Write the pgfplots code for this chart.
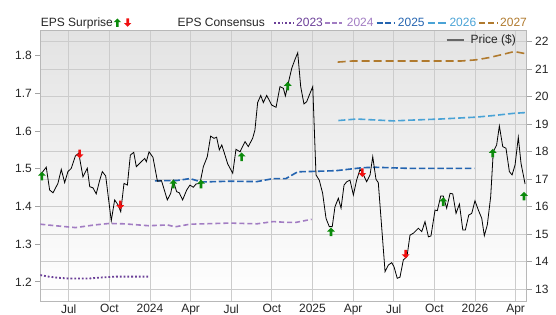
\documentclass[border=0pt]{standalone}
\usepackage{fontspec}
\setmainfont{Liberation Sans}
\usepackage{pgfplots}
\pgfplotsset{compat=1.18}

\definecolor{c2023}{HTML}{6B3F98}
\definecolor{c2024}{HTML}{A27DC3}
\definecolor{c2025}{HTML}{2464B0}
\definecolor{c2026}{HTML}{4AA3D6}
\definecolor{c2027}{HTML}{B07A2E}
\definecolor{cgreen}{HTML}{0B8A0B}
\definecolor{cred}{HTML}{F01010}
\definecolor{gridc}{HTML}{CCCCCC}
\definecolor{bgtop}{HTML}{E3E3E3}
\definecolor{bgmid}{HTML}{FBFBFB}

\pgfdeclareplotmark{uparr}{%
  \pgfpathmoveto{\pgfpoint{0pt}{4.3pt}}%
  \pgfpathlineto{\pgfpoint{3.9pt}{0.3pt}}%
  \pgfpathlineto{\pgfpoint{1.3pt}{0.3pt}}%
  \pgfpathlineto{\pgfpoint{1.3pt}{-4.3pt}}%
  \pgfpathlineto{\pgfpoint{-1.3pt}{-4.3pt}}%
  \pgfpathlineto{\pgfpoint{-1.3pt}{0.3pt}}%
  \pgfpathlineto{\pgfpoint{-3.9pt}{0.3pt}}%
  \pgfpathclose
  \pgfusepathqfill}
\pgfdeclareplotmark{downarr}{%
  \pgfpathmoveto{\pgfpoint{0pt}{-4.3pt}}%
  \pgfpathlineto{\pgfpoint{3.9pt}{-0.3pt}}%
  \pgfpathlineto{\pgfpoint{1.3pt}{-0.3pt}}%
  \pgfpathlineto{\pgfpoint{1.3pt}{4.3pt}}%
  \pgfpathlineto{\pgfpoint{-1.3pt}{4.3pt}}%
  \pgfpathlineto{\pgfpoint{-1.3pt}{-0.3pt}}%
  \pgfpathlineto{\pgfpoint{-3.9pt}{-0.3pt}}%
  \pgfpathclose
  \pgfusepathqfill}

\pgfplotsset{
  common/.style={
    at={(0pt,0pt)}, anchor=south west, scale only axis,
    width=486.4pt, height=270.3pt,
    xmin=3.9, xmax=39.82,
    tick label style={font=\fontsize{12}{14}\selectfont, text=black!85},
    /pgf/number format/assume math mode=true,
  }
}

\begin{document}
\begin{tikzpicture}
% grid / price-scale axis
\begin{axis}[common,
  ymin=12.575, ymax=22.404,
  axis background/.style={top color=bgtop, middle color=bgmid, bottom color=white},
  xtick={6,9,12,15,18,21,24,27,30,33,36,39},
  xticklabels={Jul,Oct,2024,Apr,Jul,Oct,2025,Apr,Jul,Oct,2026,Apr},
  ytick={13,14,15,16,17,18,19,20,21,22},
  ytick pos=right, yticklabel pos=right,
  xmajorgrids, ymajorgrids,
  grid style={gridc, line width=0.8pt},
  axis line style={gridc!90!black, line width=0.8pt},
  tick align=outside, major tick length=5pt,
  x tick style={draw=none},
  xticklabel style={yshift=5pt},
  y tick style={gridc!80!black, line width=0.8pt},
]
\addplot[draw=none] coordinates {(10,15)};
\end{axis}

% EPS consensus axis (left)
\begin{axis}[common,
  ymin=1.1493, ymax=1.8663,
  hide x axis,
  axis y line*=left,
  ytick={1.2,1.3,1.4,1.5,1.6,1.7,1.8},
  yticklabel style={/pgf/number format/.cd, fixed, fixed zerofill, precision=1},
  axis line style={gridc!90!black, line width=0.8pt},
  tick align=outside, major tick length=5pt,
  y tick style={gridc!80!black, line width=0.8pt},
]
\addplot[c2023, line width=1.8pt, dash pattern=on 1.8pt off 2pt] coordinates {
(3.9,1.218)(4.5,1.214)(5.2,1.211)(6,1.209)(7.5,1.209)(8.5,1.212)(9.5,1.214)(11.9,1.214)};
\addplot[c2024, line width=1.6pt, dash pattern=on 5pt off 3pt] coordinates {
(3.9,1.353)(5.0,1.349)(6.5,1.344)(7.9,1.351)(9.0,1.355)(10.1,1.354)(11.9,1.349)(13.3,1.351)(13.85,1.346)(14.95,1.353)(17.9,1.356)(19.9,1.354)(21.1,1.360)(22.0,1.358)(22.8,1.358)(23.94,1.366)};
\addplot[c2025, line width=1.6pt, dash pattern=on 6.5pt off 2.7pt] coordinates {
(12.37,1.468)(14.0,1.469)(14.95,1.474)(15.8,1.465)(17.9,1.467)(19.9,1.466)(21.1,1.474)(22.04,1.474)(22.91,1.492)(24.02,1.493)(25.74,1.495)(27.71,1.503)(28.69,1.504)(31.2,1.501)(35.95,1.501)};
\addplot[c2026, line width=1.6pt, dash pattern=on 7pt off 3pt] coordinates {
(25.91,1.628)(27.27,1.632)(29.97,1.627)(31.2,1.629)(33.42,1.632)(36.08,1.637)(37.3,1.641)(38.83,1.647)(39.7,1.649)};
\addplot[c2027, line width=1.6pt, dash pattern=on 8pt off 4pt] coordinates {
(25.86,1.783)(26.97,1.786)(31.2,1.786)(35.0,1.786)(36.08,1.789)(37.06,1.795)(38.0,1.803)(38.9,1.811)(39.64,1.806)};
\end{axis}

% price axis (hidden)
\begin{axis}[common, ymin=12.575, ymax=22.404, hide axis]
\addplot[black, line width=0.8pt] coordinates {
(3.95,17.19)(4.34,17.44)(4.59,16.61)(4.84,16.51)(5.20,16.85)(5.45,17.36)(5.70,16.88)(5.94,17.28)
(6.19,17.40)(6.49,17.85)(6.74,17.95)(7.05,17.09)(7.37,17.40)(7.55,16.73)(7.79,16.69)(8.03,16.47)
(8.29,16.97)(8.48,17.28)(8.73,17.12)(9.14,15.49)(9.39,16.25)(9.64,16.07)(9.84,15.82)(10.08,16.85)
(10.33,16.79)(10.55,17.88)(10.80,17.98)(10.99,17.46)(11.36,17.64)(11.61,17.76)(11.73,17.64)(11.93,18.00)
(12.22,17.80)(12.55,16.93)(12.85,16.95)(13.28,16.25)(13.53,16.49)(13.72,16.95)(13.97,16.55)(14.16,16.51)
(14.41,16.25)(14.71,16.61)(14.95,16.79)(15.20,16.71)(15.40,16.83)(15.69,16.85)(15.94,17.46)(16.23,17.82)
(16.48,18.57)(16.73,18.49)(16.92,18.53)(17.12,18.07)(17.30,18.25)(17.54,17.88)(17.74,17.56)(18.11,17.22)
(18.35,18.09)(18.65,18.00)(19.02,18.37)(19.26,18.19)(19.58,18.49)(19.75,18.79)(19.95,19.79)(20.18,20.05)
(20.37,19.79)(20.62,20.05)(20.99,19.70)(21.31,19.62)(21.60,20.37)(21.85,20.31)(22.00,20.03)(22.21,20.49)
(22.47,21.04)(22.71,21.36)(22.91,21.60)(23.13,20.37)(23.37,19.74)(23.57,19.82)(23.77,20.07)(24.02,20.37)
(24.26,17.16)(24.50,16.97)(24.75,16.49)(25.00,15.58)(25.24,15.28)(25.46,15.28)(25.66,16.00)(25.91,16.31)
(26.11,15.95)(26.33,16.79)(26.53,16.91)(26.77,16.97)(27.02,16.43)(27.26,16.97)(27.51,17.36)(27.71,17.22)
(28.00,16.91)(28.25,17.16)(28.45,17.82)(28.69,17.00)(28.86,16.88)(29.36,13.64)(29.60,13.88)(29.85,13.97)
(30.02,13.82)(30.26,13.40)(30.46,13.44)(30.71,14.07)(30.98,14.19)(31.20,14.97)(31.45,15.04)(31.82,15.22)
(32.07,15.10)(32.31,15.46)(32.56,14.91)(32.75,14.94)(33.05,15.88)(33.22,15.86)(33.47,16.39)(33.66,16.39)
(33.91,15.95)(34.16,16.49)(34.36,16.47)(34.60,15.76)(34.85,16.10)(35.10,15.16)(35.29,15.16)(35.54,15.70)
(35.76,15.76)(36.00,16.22)(36.25,15.88)(36.50,15.58)(36.69,14.95)(36.91,15.34)(37.16,16.37)(37.35,18.00)
(37.60,18.25)(37.80,18.94)(38.05,18.19)(38.29,18.13)(38.54,17.28)(38.74,17.16)(38.96,17.52)(39.20,18.53)
(39.40,17.58)(39.70,16.83)};
\addplot[only marks, mark=uparr, cgreen] coordinates {
(4.02,17.12)(13.72,16.83)(15.77,16.83)(18.77,17.82)(22.17,20.39)(25.37,15.09)(33.66,16.19)(37.31,17.95)(39.62,16.39)};
\addplot[only marks, mark=downarr, cred] coordinates {
(6.8,17.92)(9.81,16.07)(27.68,17.24)(30.88,14.28)};
\end{axis}

% top legend
\begin{scope}[every node/.style={font=\fontsize{12}{14}\selectfont, inner sep=0pt, anchor=base west}]
\node[text=black!85] at (0.4pt,274pt) {EPS Surprise};
\fill[cgreen] (77pt,282.5pt) -- ++(3.7pt,-3.7pt) -- ++(-2.4pt,0pt) -- ++(0pt,-4.6pt) -- ++(-2.6pt,0pt) -- ++(0pt,4.6pt) -- ++(-2.4pt,0pt) -- cycle;
\fill[cred] (87.4pt,274.2pt) -- ++(3.7pt,3.7pt) -- ++(-2.4pt,0pt) -- ++(0pt,4.6pt) -- ++(-2.6pt,0pt) -- ++(0pt,-4.6pt) -- ++(-2.4pt,0pt) -- cycle;
\node[text=black!85] at (137pt,274pt) {EPS Consensus};
\draw[c2023, line width=1.8pt, dash pattern=on 1.8pt off 2pt] (233.7pt,278pt) -- (253.7pt,278pt);
\node[text=c2023] at (255.7pt,274pt) {2023};
\draw[c2024, line width=1.6pt, dash pattern=on 4.5pt off 2.5pt] (285pt,278pt) -- (301.7pt,278pt);
\node[text=c2024] at (306.4pt,274pt) {2024};
\draw[c2025, line width=1.6pt, dash pattern=on 6pt off 2.5pt] (336.4pt,278pt) -- (354.4pt,278pt);
\node[text=c2025] at (357.4pt,274pt) {2025};
\draw[c2026, line width=1.6pt, dash pattern=on 7.5pt off 3pt] (387.4pt,278pt) -- (405.7pt,278pt);
\node[text=c2026] at (409pt,274pt) {2026};
\draw[c2027, line width=1.6pt, dash pattern=on 6pt off 3pt] (439pt,278pt) -- (457.4pt,278pt);
\node[text=c2027] at (459.7pt,274pt) {2027};
\draw[black!60, line width=2pt] (406.4pt,261pt) -- (424pt,261pt);
\node[text=black!85, anchor=west] at (430pt,260.3pt) {Price (\$)};
\end{scope}

\pgfresetboundingbox
\path[use as bounding box] (-40.3pt,-14pt) rectangle (515.7pt,301pt);
\end{tikzpicture}
\end{document}
